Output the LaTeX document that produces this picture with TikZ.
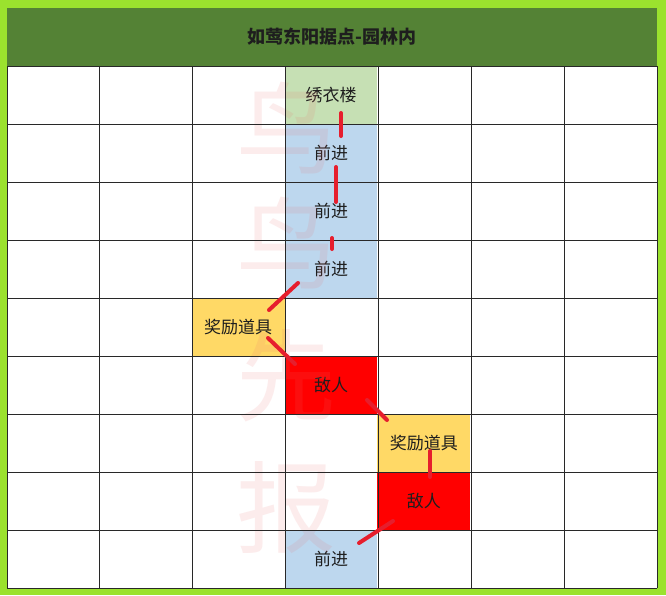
\documentclass[tikz,border=0pt]{standalone}
\usepackage{fontspec}
\setmainfont{Noto Sans CJK SC}
\definecolor{outergreen}{RGB}{155,226,46}
\definecolor{titlegreen}{RGB}{84,130,53}
\definecolor{cgreen}{RGB}{198,224,180}
\definecolor{cblue}{RGB}{189,215,238}
\definecolor{cyellow}{RGB}{255,217,102}
\definecolor{cred}{RGB}{255,0,0}
\definecolor{linkred}{RGB}{230,30,45}
\definecolor{wmpink}{RGB}{235,110,110}
\definecolor{gridc}{RGB}{40,40,40}
\definecolor{txt}{RGB}{30,30,30}
\begin{document}
\begin{tikzpicture}[x=1pt,y=-1pt,
  cell/.style={minimum width=92.86pt,minimum height=58pt,inner sep=0pt,text=txt,font=\fontsize{17}{19}\selectfont},
  link/.style={draw=linkred,line width=4pt,line cap=round},
  wm/.style={text=wmpink,opacity=0.13,font=\fontsize{100}{100}\selectfont,inner sep=0pt},
  gridline/.style={draw=gridc,line width=0.9pt}]
\useasboundingbox (0,0) rectangle (666,595);
\fill[outergreen] (0,0) rectangle (666,595);
\fill[white] (7,66) rectangle (657,588);
\fill[titlegreen] (7,8) rectangle (657,66);
\node[text=txt,font=\fontsize{18}{20}\selectfont\bfseries] (title) at (332,37) {如莺东阳据点-园林内};
% cells
\node[cell,fill=cgreen] (start) at (331.0,95) {绣衣楼};
\node[cell,fill=cblue] (f1) at (331.0,153) {前进};
\node[cell,fill=cblue] (f2) at (331.0,211) {前进};
\node[cell,fill=cblue] (f3) at (331.0,269) {前进};
\node[cell,fill=cyellow] (r1) at (238.2,327) {奖励道具};
\node[cell,fill=cred] (e1) at (331.0,385) {敌人};
\node[cell,fill=cyellow] (r2) at (423.9,443) {奖励道具};
\node[cell,fill=cred] (e2) at (423.9,501) {敌人};
\node[cell,fill=cblue] (f4) at (331.0,559) {前进};
% watermark
\node[wm] (w1) at (286,128) {鸟};
\node[wm] (w2) at (286,243) {鸟};
\node[wm] (w3) at (286,376) {先};
\node[wm] (w4) at (286,508) {报};
% grid
\foreach \i in {0,...,7} {\draw[gridline] ({7+92.857*\i},66) -- ({7+92.857*\i},588);}
\foreach \j in {0,...,9} {\draw[gridline] (7,{66+58*\j}) -- (657,{66+58*\j});}
% connectors
\coordinate (a1) at (341,113); \coordinate (b1) at (341,136);
\coordinate (a2) at (336,167); \coordinate (b2) at (336,202);
\coordinate (a3) at (332,238); \coordinate (b3) at (332,249);
\coordinate (a4) at (298,283); \coordinate (b4) at (269,310);
\coordinate (a5) at (268,338); \coordinate (b5) at (295,364);
\coordinate (a6) at (367,400); \coordinate (b6) at (387,420);
\coordinate (a7) at (430,451); \coordinate (b7) at (430,477);
\coordinate (a8) at (393,521); \coordinate (b8) at (359,543);
\foreach \k in {1,...,8} {\draw[link] (a\k) -- (b\k);}
\end{tikzpicture}
\end{document}
